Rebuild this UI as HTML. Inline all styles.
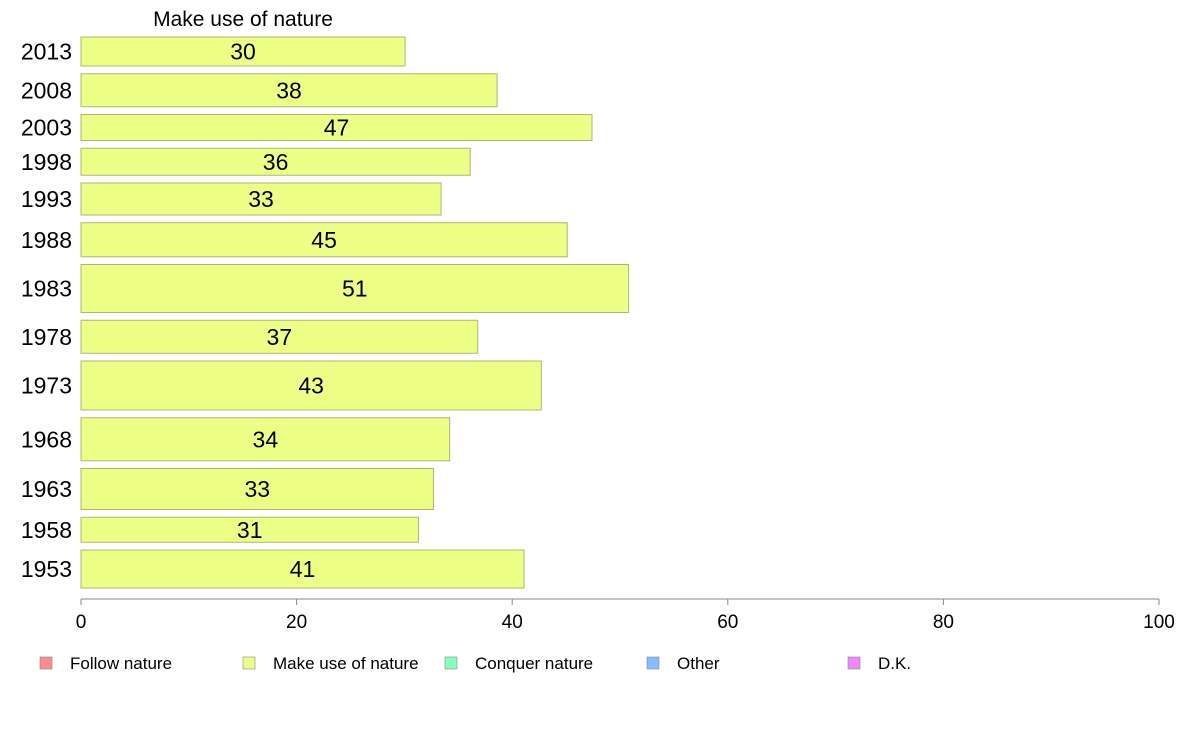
<!DOCTYPE html>
<html><head><meta charset="utf-8"><style>
body{margin:0;background:#fff;font-family:"Liberation Sans",Arial,sans-serif}
svg{display:block}
</style></head><body>
<svg id="chart" width="1188" height="736">
<text x="243" y="26" font-size="21" text-anchor="middle">Make use of nature</text>
<g id="bars"></g>
<g id="axis"></g>
<g id="legend"></g>
</svg>
<script>
const years = ["2013","2008","2003","1998","1993","1988","1983","1978","1973","1968","1963","1958","1953"];
const values = [30.06,38.6,47.4,36.1,33.4,45.1,50.8,36.8,42.7,34.2,32.7,31.3,41.1];
const labels = ["30","38","47","36","33","45","51","37","43","34","33","31","41"];
const weights = [29,33,26,27,32,34,48,33,49,43,41,25,38];
const ticks = [0,20,40,60,80,100];
const legendNames = ["Follow nature","Make use of nature","Conquer nature","Other","D.K."];
const legendColors = ["#ff8c8c","#eeff88","#88ffbb","#88bbff","#ee88ff"];

const NS="http://www.w3.org/2000/svg";
const X0=81,X1=1159,Y0=37,Y1=588,GAP=7.75;
const x=v=>X0+(v/100)*(X1-X0);
const totalW=weights.reduce((a,b)=>a+b,0);
const scaleH=(Y1-Y0-GAP*(weights.length-1))/totalW;
function mk(tag,attrs,parent){const e=document.createElementNS(NS,tag);for(const k in attrs)e.setAttribute(k,attrs[k]);parent.appendChild(e);return e;}
const gb=document.getElementById('bars');
let y=Y0;
years.forEach((yr,i)=>{
  const h=weights[i]*scaleH;
  const r=mk('rect',{x:X0,y:y,width:x(values[i])-X0,height:h,fill:"#eeff88",stroke:"#a8b870","stroke-width":1},gb);
  
  
  const t=mk('text',{x:(X0+x(values[i]))/2,y:y+h/2+8,"font-size":23,"text-anchor":"middle"},gb);
  t.textContent=labels[i];
  
  
  const yl=mk('text',{x:72,y:y+h/2+8,"font-size":23,"text-anchor":"end"},gb);
  yl.textContent=yr;
  
  
  y+=h+GAP;
});
const ga=document.getElementById('axis');
const al=mk('line',{x1:X0,x2:X1,y1:599,y2:599,stroke:"#888","stroke-width":1},ga);


ticks.forEach(t=>{
  const l=mk('line',{x1:x(t),x2:x(t),y1:599,y2:605,stroke:"#888"},ga);
  
  
  const tx=mk('text',{x:x(t),y:628,"font-size":19,"text-anchor":"middle"},ga);
  tx.textContent=t;
  
  
});
const gl=document.getElementById('legend');
const lx=[40,243,445,647,848];
legendNames.forEach((n,i)=>{
  const r=mk('rect',{x:lx[i],y:657,width:12,height:12,fill:legendColors[i],stroke:"#888","stroke-width":0.6},gl);
  
  
  const t=mk('text',{x:lx[i]+30,y:669,"font-size":17},gl);
  t.textContent=n;
  
  
});
</script>
</body></html>
